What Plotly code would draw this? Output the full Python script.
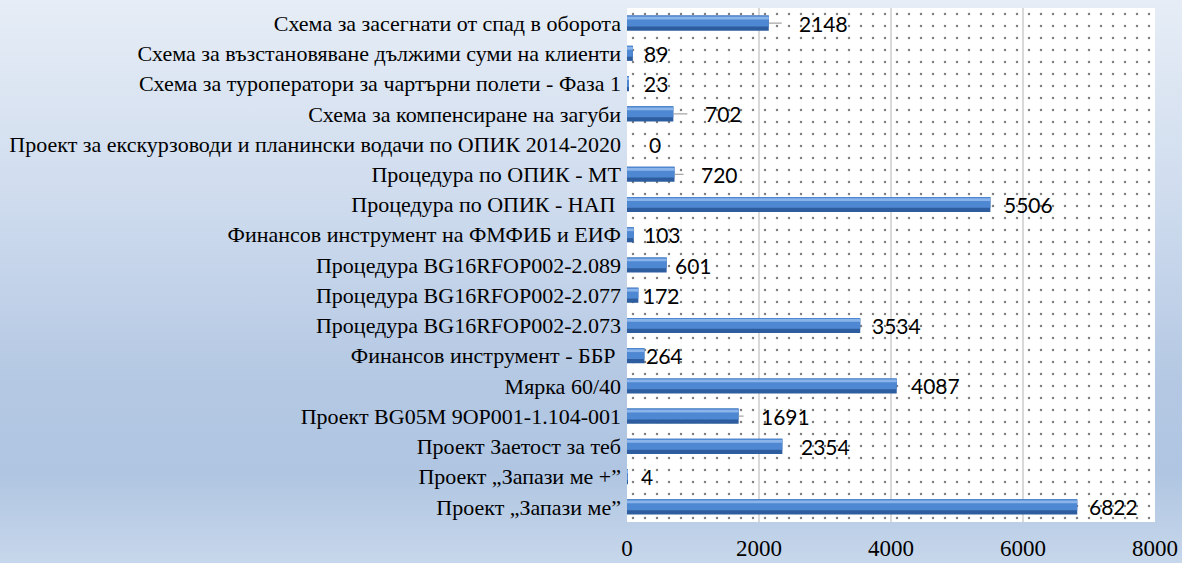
import base64
import plotly.graph_objects as go

categories = [
    "Схема за засегнати от спад в оборота",
    "Схема за възстановяване дължими суми на клиенти",
    "Схема за туроператори за чартърни полети - Фаза 1",
    "Схема за компенсиране на загуби",
    "Проект за екскурзоводи и планински водачи по ОПИК 2014-2020",
    "Процедура по ОПИК - МТ",
    "Процедура по ОПИК - НАП ",
    "Финансов инструмент на ФМФИБ и ЕИФ",
    "Процедура BG16RFOP002-2.089",
    "Процедура BG16RFOP002-2.077",
    "Процедура BG16RFOP002-2.073",
    "Финансов инструмент - ББР ",
    "Мярка 60/40",
    "Проект BG05M 9OP001-1.104-001",
    "Проект Заетост за теб",
    "Проект „Запази ме +”",
    "Проект „Запази ме”",
]
values = [2148, 89, 23, 702, 0, 720, 5506, 103, 601, 172, 3534, 264, 4087, 1691, 2354, 4, 6822]
x_ticks = [0, 2000, 4000, 6000, 8000]

# label styling (pixel offsets from bar end, leader line flags)
label_offsets = [32, 9, 13, 27, 20, 22, 12, 8, 6, 3, 10, 0, 12, 24, 17, 12, 10]
leader = [True, False, False, True, False, True, False, False, False, False, False, False, False, True, False, False, False]

W, H = 1182, 563
L, R, T, B = 627.0, 1155.0, 8.0, 522.0
PW, PH = R - L, B - T
n = len(categories)
idx = list(range(n))
x_max = x_ticks[-1]

svg = f'''<svg xmlns="http://www.w3.org/2000/svg" width="{W}" height="{H}" viewBox="0 0 {W} {H}" preserveAspectRatio="none">
<defs><linearGradient id="g" x1="0" y1="0" x2="0" y2="1">
<stop offset="0" stop-color="#e6edf6"/>
<stop offset="0.35" stop-color="#cfdcee"/>
<stop offset="0.68" stop-color="#b4c8e3"/>
<stop offset="0.84" stop-color="#afc5e1"/>
<stop offset="1" stop-color="#c7d7eb"/>
</linearGradient></defs>
<rect width="{W}" height="{H}" fill="url(#g)"/></svg>'''
src = "data:image/svg+xml;base64," + base64.b64encode(svg.encode()).decode()

LABEL_FONT = dict(family="Lato", size=21, color="#000000")

fig = go.Figure()

# dotted plot-area background (a single full-area bar carrying the dot pattern)
fig.add_trace(go.Bar(
    x=[x_max], y=[(n - 1) / 2], width=n, orientation="h",
    marker=dict(color="rgba(0,0,0,0)", line=dict(width=0),
                pattern=dict(shape=".", fgcolor="#000000", bgcolor="rgba(0,0,0,0)",
                             size=12, solidity=0.035)),
    hoverinfo="skip", showlegend=False,
))

# bars: base (dark), body, highlight
bar_layers = [
    dict(color="#2d5d9e", width=0.5, offset=-0.25),
    dict(color="#4f88d2", width=0.36, offset=-0.25),
    dict(color="#8ab4ea", width=0.09, offset=-0.21),
]
for bl in bar_layers:
    fig.add_trace(go.Bar(
        x=values, y=idx, orientation="h",
        marker=dict(color=bl["color"], line=dict(width=0)),
        width=bl["width"], offset=bl["offset"],
        hoverinfo="skip", showlegend=False,
    ))

for i, (v, off, ld) in enumerate(zip(values, label_offsets, leader)):
    if ld:
        fig.add_annotation(
            x=v, y=i, text=str(v), showarrow=True,
            arrowhead=0, arrowwidth=1.2, arrowcolor="#a6a6a6", ax=off + 23, ay=0,
            startstandoff=16, xanchor="center",
            font=LABEL_FONT,
        )
    else:
        fig.add_annotation(
            x=v, y=i, text=str(v), showarrow=False,
            xanchor="left", xshift=off,
            font=LABEL_FONT,
        )

# gradient background over the whole canvas (paper coords are relative to the plot area)
fig.add_layout_image(dict(
    source=src, xref="paper", yref="paper",
    x=-L / PW, y=1 + T / PH, sizex=W / PW, sizey=H / PH,
    xanchor="left", yanchor="top", sizing="stretch", layer="below",
))
fig.add_shape(type="rect", xref="x domain", yref="y domain", x0=0, x1=1, y0=0, y1=1,
              fillcolor="#ffffff", line=dict(width=0), layer="below")

fig.update_layout(
    width=W, height=H,
    margin=dict(l=L, r=W - R, t=T, b=H - B, pad=0, autoexpand=False),
    paper_bgcolor="#d5e0ef", plot_bgcolor="#ffffff",
    barmode="overlay",
    xaxis=dict(range=[0, x_max], tickvals=x_ticks,
               ticktext=[str(t) for t in x_ticks],
               showgrid=True, gridcolor="#d9d9d9", gridwidth=2,
               zeroline=False, showline=False, ticks="",
               ticklabelstandoff=10, fixedrange=True, automargin=False,
               tickfont=dict(family="Liberation Serif", size=23, color="#000000")),
    yaxis=dict(range=[n - 0.5, -0.5], tickvals=idx, ticktext=categories,
               showgrid=False, zeroline=False, showline=False, ticks="",
               ticklabelstandoff=5, fixedrange=True, automargin=False,
               tickfont=dict(family="Liberation Serif", size=22, color="#000000")),
)

fig.write_html("out.html", config={"displayModeBar": False},
               post_script="document.body.style.margin='0';document.body.style.overflow='hidden';")
